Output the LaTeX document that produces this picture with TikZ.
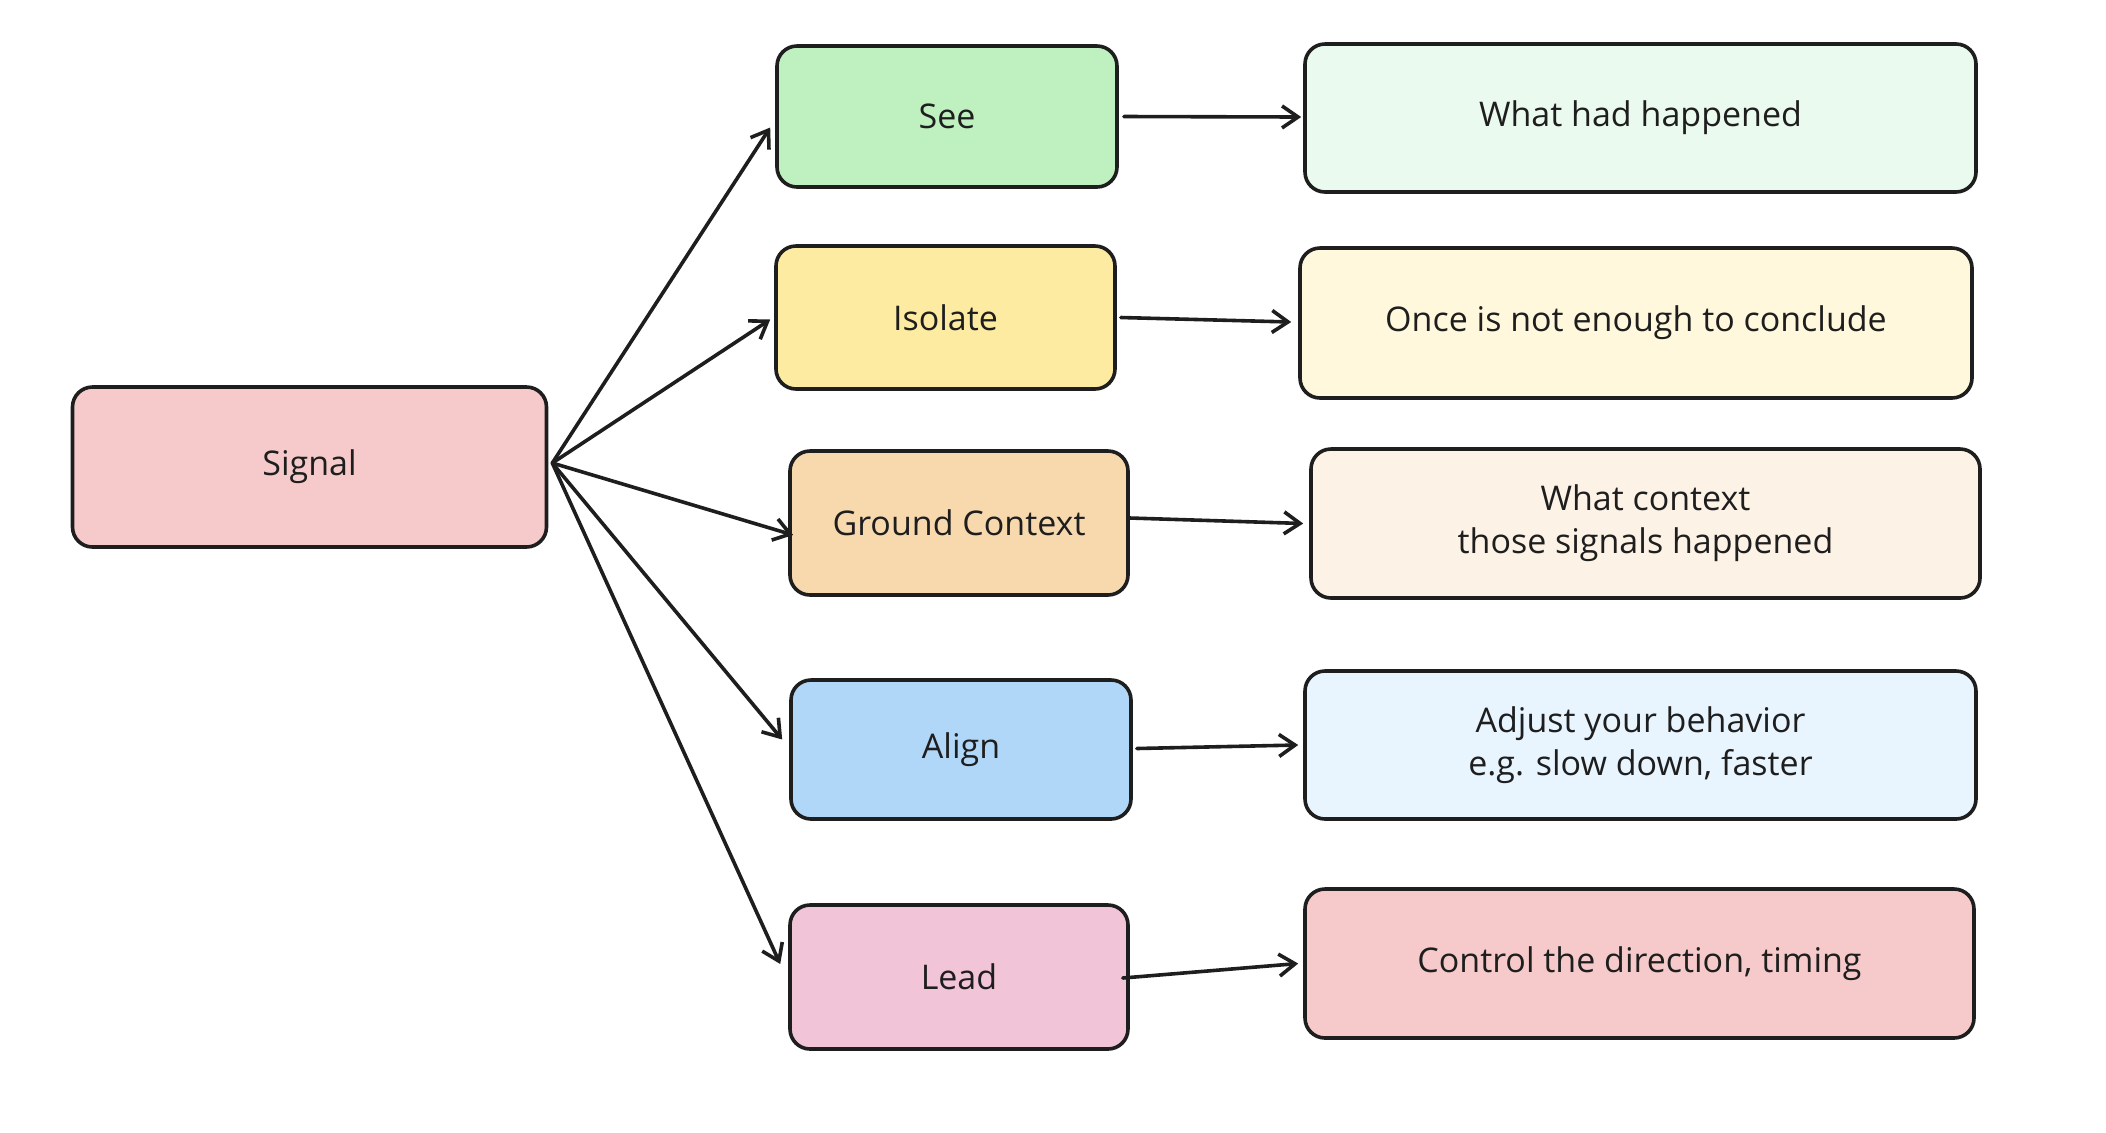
\documentclass[tikz,border=0pt]{standalone}
\usepackage{fontspec}
\setmainfont{Open Sans}
\usetikzlibrary{arrows.meta,calc}
\definecolor{ink}{HTML}{1E1E1E}
\definecolor{cSignal}{HTML}{F6CACA}
\definecolor{cSee}{HTML}{BFF0C0}
\definecolor{cIso}{HTML}{FCEBA0}
\definecolor{cGround}{HTML}{F8D9AE}
\definecolor{cAlign}{HTML}{B1D7F8}
\definecolor{cLead}{HTML}{F2C4D7}
\definecolor{rSee}{HTML}{EBFAEE}
\definecolor{rIso}{HTML}{FFF8DC}
\definecolor{rGround}{HTML}{FDF2E6}
\definecolor{rAlign}{HTML}{E8F4FE}
\definecolor{rLead}{HTML}{F6CACA}
\tikzset{
  box/.style={draw=ink, line width=1.8pt, rounded corners=10pt, inner sep=0pt,
    align=center, font=\fontsize{17}{21.5}\selectfont, text=ink},
  arr/.style={draw=ink, line width=1.8pt, line cap=round,
    -{Straight Barb[length=8pt,width=11pt,line width=1.8pt]}}
}
\begin{document}
\begin{tikzpicture}[x=0.5pt,y=-0.5pt]
\useasboundingbox (0,0) rectangle (2106,1132);
% left
\node[box, fill=cSignal, minimum width=237pt, minimum height=80pt] (sig) at (309.5,467) {Signal};
% middle
\node[box, fill=cSee, minimum width=170pt, minimum height=70.5pt] (see) at (947,116.5) {See};
\node[box, fill=cIso, minimum width=169.5pt, minimum height=71.5pt] (iso) at (945.5,317.5) {Isolate};
\node[box, fill=cGround, minimum width=169pt, minimum height=72pt] (gro) at (959,523) {Ground Context};
\node[box, fill=cAlign, minimum width=170pt, minimum height=69.5pt] (ali) at (961,749.5) {Align};
\node[box, fill=cLead, minimum width=169pt, minimum height=72pt] (lea) at (959,977) {Lead};
% right
\node[box, fill=rSee, minimum width=335.5pt, minimum height=74pt] (rsee) at (1640.5,118) {What had happened};
\node[box, fill=rIso, minimum width=336pt, minimum height=75pt] (riso) at (1636,323) {Once is not enough to conclude};
\node[box, fill=rGround, minimum width=334.5pt, minimum height=74.5pt] (rgro) at (1645.5,523.5) {What context\\those signals happened};
\node[box, fill=rAlign, minimum width=335.5pt, minimum height=74pt] (rali) at (1640.5,745) {Adjust your behavior\\e.g. slow down, faster};
\node[box, fill=rLead, minimum width=334.5pt, minimum height=74.5pt] (rlea) at (1639.5,963.5) {Control the direction, timing};
% arrows from Signal
\coordinate (s0) at ($(sig.east)+(4,-4)$);
\draw[arr] (s0) -- ($(see.west)+(-5,11)$);
\draw[arr] (s0) -- ($(iso.west)+(-4,2)$);
\draw[arr] (s0) -- ($(gro.west)+(5,12)$);
\draw[arr] (s0) -- ($(ali.west)+(-7,-10)$);
\draw[arr] (s0) -- ($(lea.west)+(-8,-13)$);
% arrows to right boxes
\draw[arr] ($(see.east)+(5,0)$) -- ($(rsee.west)+(-2,-1)$);
\draw[arr] ($(iso.east)+(4,0)$) -- ($(riso.west)+(-7,-1)$);
\draw[arr] ($(gro.east)+(0,-5)$) -- ($(rgro.west)+(-6,0)$);
\draw[arr] ($(ali.east)+(4,-1)$) -- ($(rali.west)+(-5,0)$);
\draw[arr] ($(lea.east)+(-7,1)$) -- ($(rlea.west)+(-5,0)$);
\end{tikzpicture}
\end{document}
